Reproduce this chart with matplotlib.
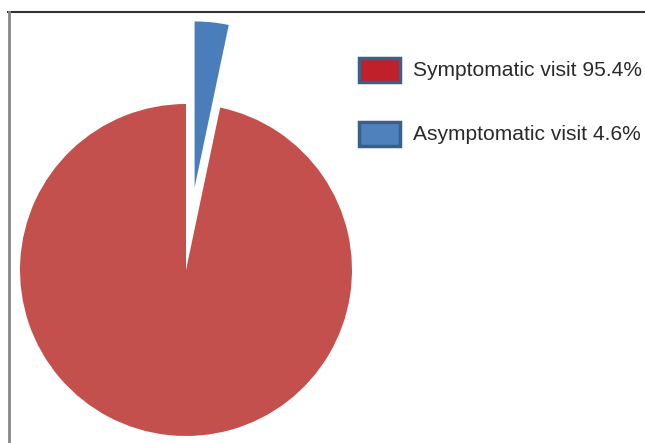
import matplotlib
matplotlib.use("Agg")
import matplotlib.pyplot as plt
from matplotlib.patches import Rectangle
from matplotlib.lines import Line2D

categories = ["Symptomatic visit", "Asymptomatic visit"]
label_percents = ["95.4%", "4.6%"]
# slice sizes as drawn in the picture (blue wedge spans about 12 degrees)
slice_values = [96.7, 3.3]
explode = [0.0, 0.5]
pie_colors = ["#C4504D", "#4A7EBB"]
legend_fill = ["#C0202A", "#4F81BD"]
legend_edge = "#3A5F8B"

W, H = 645, 443
fig = plt.figure(figsize=(W / 100, H / 100), dpi=100)
ax = fig.add_axes([0, 0, 1, 1])
ax.set_axis_off()

R = 166.0
cx, cy = 186.0, H - 270.0
ax.pie(slice_values, explode=explode, colors=pie_colors, startangle=90,
       counterclock=True, radius=1.0, center=(0, 0),
       wedgeprops=dict(linewidth=0, antialiased=True))
ax.set_xlim(-cx / R, (W - cx) / R)
ax.set_ylim(-cy / R, (H - cy) / R)
ax.set_aspect("equal", adjustable="box")

# frame lines
fig.add_artist(Line2D([8 / W, 1], [1 - 12 / H, 1 - 12 / H], color="#333333", lw=1.5,
                      transform=fig.transFigure))
fig.add_artist(Line2D([8.5 / W, 8.5 / W], [0, 1 - 12 / H], color="#888888", lw=2,
                      transform=fig.transFigure))

# legend
rows_y = [70, 134]
for i, (cat, pct) in enumerate(zip(categories, label_percents)):
    yc = rows_y[i]
    x0, w, h = 359, 41, 24
    fig.add_artist(Rectangle((x0 / W, 1 - (yc + h / 2) / H), w / W, h / H,
                             facecolor=legend_fill[i], edgecolor=legend_edge,
                             lw=2.5, transform=fig.transFigure))
    fig.text(413 / W, 1 - yc / H, f"{cat} {pct}", fontsize=15.1,
             family="Liberation Sans", color="#2a2a2a", va="center", ha="left")

fig.savefig("out.png", dpi=100)
